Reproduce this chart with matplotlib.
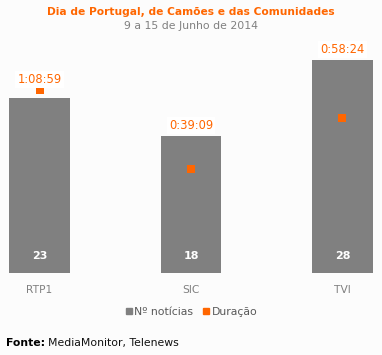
import matplotlib
matplotlib.use('Agg')
import matplotlib.pyplot as plt
from matplotlib.lines import Line2D

# dados
canais = ['RTP1', 'SIC', 'TVI']
noticias = [23, 18, 28]
duracao = ['1:08:59', '0:39:09', '0:58:24']

def em_segundos(t):
    h, m, s = t.split(':')
    return int(h) * 3600 + int(m) * 60 + int(s)

segundos = [em_segundos(t) for t in duracao]

cinza = '#808080'
laranja = '#FF6600'
fundo = '#FCFCFC'

fig = plt.figure(figsize=(3.82, 3.55), dpi=100, facecolor=fundo)
ax = fig.add_axes([0, 0.231, 1, 0.643])
ax.set_facecolor(fundo)

pos = range(len(canais))
ax.bar(pos, noticias, width=0.4, color=cinza, zorder=2)
ax.set_xlim(-0.261, 2.261)
ax.set_ylim(0, 30)

ax2 = ax.twinx()
ax2.set_ylim(0, 30 * 7.61 / 0.0442)
ax2.plot(pos, segundos, linestyle='none', marker='s', markersize=5.6,
         color=laranja, markeredgewidth=0, zorder=3)

for a in (ax, ax2):
    for lado in a.spines.values():
        lado.set_visible(False)
    a.set_yticks([])
ax.set_xticks([])
ax2.set_xticks([])

# numeros nas barras
for i, v in enumerate(noticias):
    ax.annotate(str(v), xy=(i, 0), xytext=(0, 12), textcoords='offset points',
                ha='center', va='center', color='white', fontsize=8,
                fontweight='bold', zorder=4)

# etiquetas da duracao acima da barra ou do marcador
escala = 0.0442 / 7.61
for i, (v, s, t) in enumerate(zip(noticias, segundos, duracao)):
    topo = max(v, s * escala)
    ax2.annotate(t, xy=(i, topo / escala), xytext=(0, 7.5),
                 textcoords='offset points', ha='center', va='center',
                 color=laranja, fontsize=8.3, zorder=5,
                 bbox=dict(boxstyle='square,pad=0.2', fc='white', ec='none'))

# nomes dos canais
for i, c in enumerate(canais):
    ax.annotate(c, xy=(i, 0), xytext=(0, -12.5), textcoords='offset points',
                ha='center', va='center', color=cinza, fontsize=7.7)

fig.text(0.5, 0.966, u'Dia de Portugal, de Camões e das Comunidades',
         ha='center', va='center', color=laranja, fontsize=7.7, fontweight='bold')
fig.text(0.5, 0.928, '9 a 15 de Junho de 2014', ha='center', va='center',
         color=cinza, fontsize=7.8)

pegas = [Line2D([], [], linestyle='none', marker='s', markersize=5, color=cinza),
         Line2D([], [], linestyle='none', marker='s', markersize=5, color=laranja)]
leg = fig.legend(pegas, [u'Nº notícias', u'Duração'], loc='center',
                 bbox_to_anchor=(0.5, 0.121), ncol=2, frameon=False,
                 fontsize=7.8, handletextpad=0.1, columnspacing=0.8,
                 handlelength=0.8)
for txt in leg.get_texts():
    txt.set_color('#595959')

fig.text(0.016, 0.034, 'Fonte:', ha='left', va='center', color='black',
         fontsize=7.8, fontweight='bold')
fig.text(0.125, 0.034, 'MediaMonitor, Telenews', ha='left', va='center',
         color='#111111', fontsize=7.8)

fig.savefig('out.png', dpi=100, facecolor=fundo)
